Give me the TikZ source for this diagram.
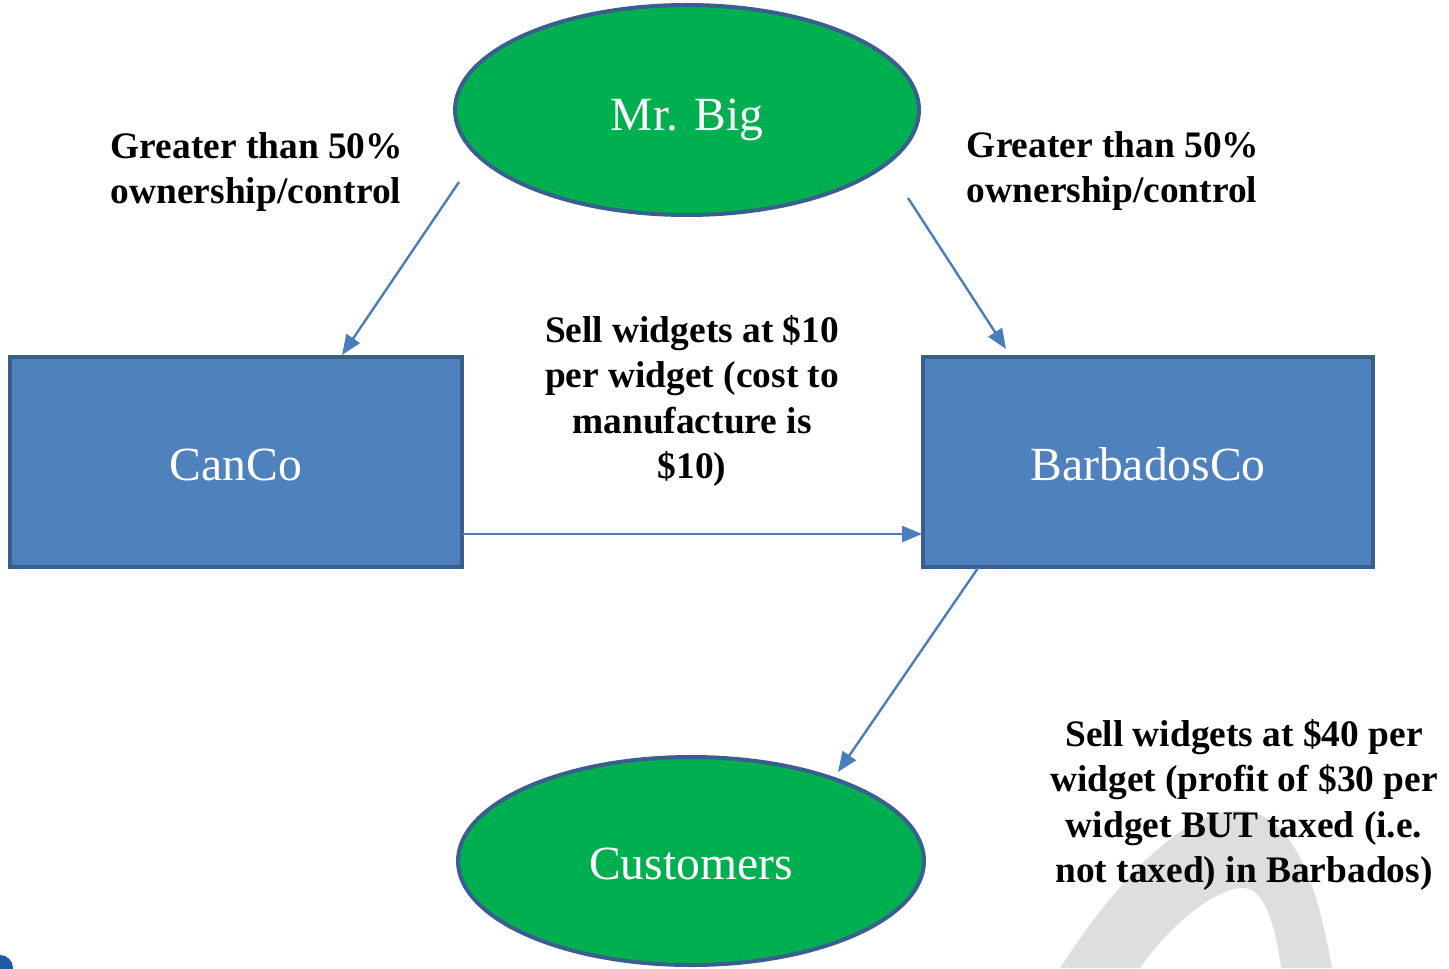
\documentclass[tikz,border=0pt]{standalone}
\usepackage{fontspec}
\setmainfont{Liberation Serif}
\usetikzlibrary{shapes.geometric,arrows.meta}
\definecolor{boxfill}{HTML}{4F81BD}
\definecolor{boxline}{HTML}{3A5F8E}
\definecolor{ovalfill}{HTML}{00B050}
\definecolor{arrowc}{HTML}{4A7EBB}
\definecolor{wmark}{HTML}{DDDFDF}
\definecolor{blob}{HTML}{1E5AA6}
\begin{document}
\begin{tikzpicture}[x=0.5pt,y=-0.5pt,
  oval/.style={ellipse,fill=ovalfill,draw=boxline,line width=2pt,inner sep=0pt,
    text=white,font=\fontsize{23.8}{28}\selectfont},
  entity/.style={rectangle,fill=boxfill,draw=boxline,line width=2pt,inner sep=0pt,
    text=white,font=\fontsize{23.8}{28}\selectfont},
  lbl/.style={font=\bfseries\fontsize{18.7}{22.6}\selectfont,inner sep=0pt},
  conn/.style={draw=arrowc,line width=1.2pt,-{Triangle[length=10pt,width=8pt]}}]
\useasboundingbox (0,0) rectangle (1449,968);
% watermark
\fill[wmark] (1060,968) .. controls (1130,860) and (1200,800) .. (1252,812)
  .. controls (1300,825) and (1320,900) .. (1332,968) -- (1281,968)
  .. controls (1275,925) and (1265,888) .. (1243,888)
  .. controls (1215,888) and (1170,925) .. (1140,968) -- cycle;
\fill[blob] (0,968) circle (13);
% nodes
\node[oval,minimum width=232pt,minimum height=105pt] (big) at (687,110) {\raisebox{-10.3pt}[0pt][0pt]{Mr. Big}};
\node[oval,minimum width=233pt,minimum height=104pt] (cust) at (691,861) {\raisebox{-9.3pt}[0pt][0pt]{Customers}};
\node[entity,minimum width=226pt,minimum height=105pt] (canco) at (236,462) {\raisebox{-9.1pt}[0pt][0pt]{CanCo}};
\node[entity,minimum width=225pt,minimum height=105pt] (barb) at (1148,462) {\raisebox{-9.1pt}[0pt][0pt]{BarbadosCo}};
% labels
\node[lbl,align=left] (l1) at (257,172) {Greater than 50\%\\ownership/control};
\node[lbl,align=left] (l2) at (1113,171) {Greater than 50\%\\ownership/control};
\node[lbl,align=center] (l3) at (692,401) {Sell widgets at \$10\\per widget (cost to\\manufacture is\\\$10)};
\node[lbl,align=center] (l4) at (1244,805) {Sell widgets at \$40 per\\widget (profit of \$30 per\\widget BUT taxed (i.e.\\not taxed) in Barbados)};
% connector ends
\coordinate (a1s) at (459,182);
\coordinate (a1e) at (342,355);
\coordinate (a2s) at (908,198);
\coordinate (a2e) at (1006,349);
\coordinate (a3s) at (462,534);
\coordinate (a3e) at (922,534);
\coordinate (a4s) at (978,568);
\coordinate (a4e) at (838,772);
\draw[conn] (a1s) -- (a1e);
\draw[conn] (a2s) -- (a2e);
\draw[conn] (a3s) -- (a3e);
\draw[conn] (a4s) -- (a4e);
\end{tikzpicture}
\end{document}
